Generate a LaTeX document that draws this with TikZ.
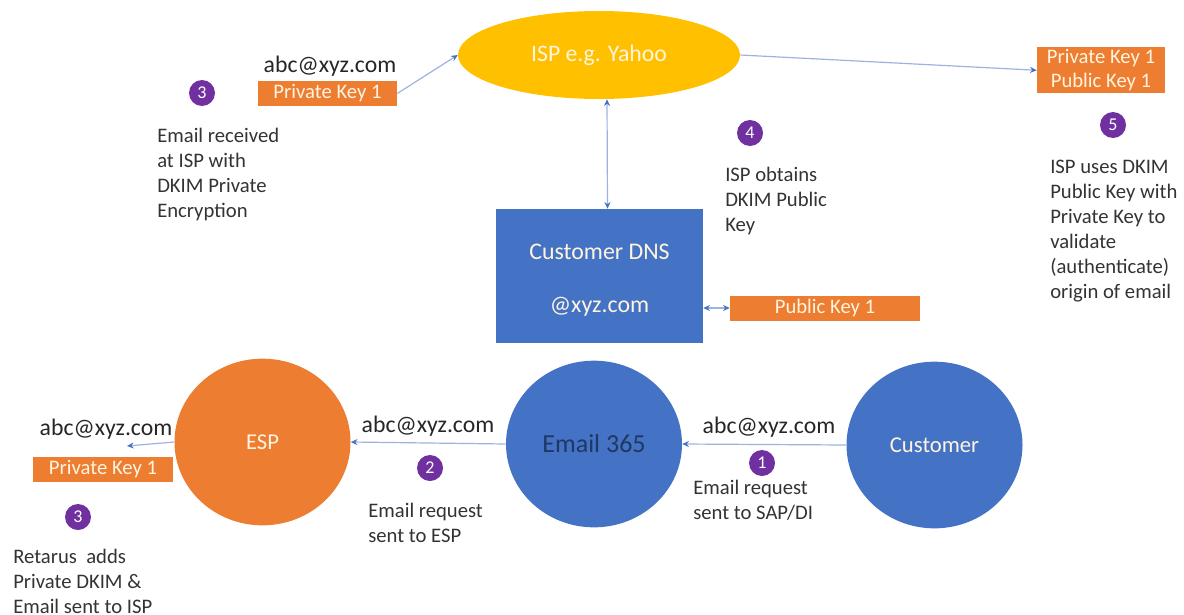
\documentclass[tikz,border=0pt]{standalone}
\usepackage{fontspec}
\setmainfont{Carlito}
\usetikzlibrary{arrows.meta,shapes.geometric}
\definecolor{cblue}{HTML}{4472C4}
\definecolor{corange}{HTML}{ED7D31}
\definecolor{cgold}{HTML}{FFC000}
\definecolor{cpurple}{HTML}{7030A0}
\definecolor{clinecol}{HTML}{9DB3DE}
\definecolor{textgray}{HTML}{333333}
\definecolor{textdark}{HTML}{262626}
\definecolor{navy}{HTML}{1F3864}
\definecolor{lighttext}{HTML}{FFF4E0}
\begin{document}
\begin{tikzpicture}[x=0.75pt,y=-0.75pt,
  body/.style={font=\fontsize{15.5}{18.75}\selectfont, text=textgray, align=left, anchor=base west, inner sep=0},
  addr/.style={font=\fontsize{17.8}{20}\selectfont, text=textdark, inner sep=0, anchor=base},
  keybox/.style={fill=corange, text=lighttext, font=\fontsize{15.5}{18}\selectfont, inner sep=0, minimum height=18.75pt},
  num/.style={circle, fill=cpurple, text=white, inner sep=0, minimum size=19.5pt, font=\fontsize{13.5}{14}\selectfont},
  bubble/.style={ellipse, inner sep=0, minimum width=132pt, minimum height=125pt},
  conn/.style={draw=clinecol, line width=0.9pt, -{Stealth[length=5pt,width=4.5pt,color=cblue]}},
  conn2/.style={draw=clinecol, line width=0.9pt, {Stealth[length=5pt,width=4.5pt,color=cblue]}-{Stealth[length=5pt,width=4.5pt,color=cblue]}}
]
\path[use as bounding box] (0,0) rectangle (1184,614);

% ISP ellipse
\node[ellipse, fill=cgold, inner sep=0, minimum width=211.5pt, minimum height=66pt,
      text=lighttext, font=\fontsize{17.8}{20}\selectfont] (isp) at (599,55) {ISP e.g. Yahoo};

% Customer DNS
\node[rectangle, fill=cblue, inner sep=0, minimum width=155.25pt, minimum height=100.5pt] (dns) at (599.5,276) {};
\node[text=lighttext, font=\fontsize{17.9}{20}\selectfont, inner sep=0] (dnsname) at (599.5,252) {Customer DNS};
\node[text=lighttext, font=\fontsize{17.9}{20}\selectfont, inner sep=0] (dnsdom) at (599.5,307) {@xyz.com};

% key boxes
\node[keybox, minimum width=142.5pt] (pubk) at (825,308) {Public Key 1};
\node[keybox, minimum width=104.25pt] (pkA) at (327.5,93.5) {Private Key 1};
\node[keybox, minimum width=105pt] (pkB) at (103,469.5) {Private Key 1};
\node[keybox, minimum width=96pt, minimum height=17.25pt] (privR) at (1101,58.5) {Private Key 1};
\node[keybox, minimum width=96pt, minimum height=17.25pt] (pubR) at (1101,81.5) {Public Key 1};

% bottom bubbles
\node[bubble, fill=cblue, text=lighttext, font=\fontsize{17}{20}\selectfont] (cust) at (934.5,445) {Customer};
\node[bubble, fill=cblue, text=navy, font=\fontsize{19.5}{22}\selectfont] (em) at (594,444) {Email 365};
\node[bubble, fill=corange, text=lighttext, font=\fontsize{17}{20}\selectfont] (esp) at (262.5,442) {ESP};
\coordinate (espout) at (127,446);

% address labels
\node[addr] (a0) at (330,72) {abc@xyz.com};
\node[addr] (a1) at (769,433) {abc@xyz.com};
\node[addr] (a2) at (428,432) {abc@xyz.com};
\node[addr] (a3) at (106,435) {abc@xyz.com};

% step numbers
\node[num] (n3a) at (202,93) {3};
\node[num] (n4) at (750,133) {4};
\node[num] (n5) at (1113,125) {5};
\node[num] (n1) at (762,463) {1};
\node[num] (n2) at (430,468) {2};
\node[num] (n3b) at (78,517) {3};

% descriptions (anchored at the baseline of the last line)
\node[body] (t3a) at (157,217) {Email received\\at ISP with\\DKIM Private\\Encryption};
\node[body] (t4) at (725,231) {ISP obtains\\DKIM Public\\Key};
\node[body] (t5) at (1050,298) {ISP uses DKIM\\Public Key with\\Private Key to\\validate\\(authenticate)\\origin of email};
\node[body] (t1) at (693,519) {Email request\\sent to SAP/DI};
\node[body] (t2) at (368,542) {Email request\\sent to ESP};
\node[body] (t3b) at (13,613) {Retarus~ adds\\Private DKIM \&\\Email sent to ISP};

% connectors
\draw[conn] (pkA.east) -- (isp.west);
\draw[conn] (isp.east) -- (privR.south west);
\draw[conn2] ([xshift=6pt]isp.south) -- ([xshift=6pt]dns.north);
\draw[conn2] (dns.east |- pubk.west) -- (pubk.west);
\draw[conn] (cust.west) -- (em.east);
\draw[conn] (em.west) -- (esp.east);
\draw[conn] (esp.west) -- (espout);
\end{tikzpicture}
\end{document}
